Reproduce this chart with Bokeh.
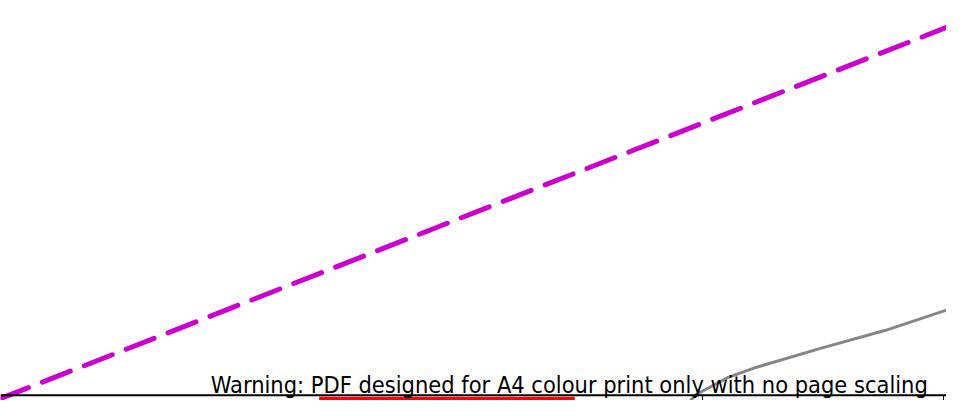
from bokeh.plotting import figure
from bokeh.models import Range1d
from bokeh.core.properties import value
from bokeh.embed import file_html
from bokeh.resources import INLINE

# Page coordinates (x to the right, y upward from bottom edge)
trend_x = [0, 962]
trend_y = [2, 388]

profile_x = [700, 707, 740, 767, 833, 900, 962]
profile_y = [-2, 6, 24, 34, 54, 73, 94]

rule_x = [0, 962]
rule_y = [5.5, 5.5]

band_left = [324]
band_right = [584]
band_bottom = [-2]
band_top = [4]

tick_positions = [714, 959]
tick_bottom = -2
tick_top = 5

warning_text = ["Warning: PDF designed for A4 colour print only with no page scaling"]
warning_x = [943]
warning_y = [16.5]

p = figure(width=946, height=400, output_backend="svg", toolbar_location=None,
           x_range=Range1d(0, 962), y_range=Range1d(0, 416),
           min_border=0, min_border_left=0, min_border_right=0,
           min_border_top=0, min_border_bottom=0)
p.axis.visible = False
p.grid.visible = False
p.outline_line_color = None
p.background_fill_color = "white"
p.border_fill_color = "white"

p.line(trend_x, trend_y, line_color="#cc00cc", line_width=5,
       line_dash="30 15", line_cap="round")

p.line(profile_x, profile_y, line_color="#707070", line_width=3, line_alpha=0.85)

p.quad(left=band_left, right=band_right, bottom=band_bottom, top=band_top,
       fill_color="#ff0000", line_color=None)

p.line(rule_x, rule_y, line_color="black", line_width=2)
p.segment(x0=tick_positions, x1=tick_positions,
          y0=[tick_bottom] * len(tick_positions), y1=[tick_top] * len(tick_positions),
          line_color="black", line_width=1)

p.text(x=warning_x, y=warning_y, text=warning_text,
       text_font=value("DejaVu Sans Condensed"), text_font_size="23.4px",
       text_align="right", text_baseline="alphabetic", text_color="black")

open("out.html", "w").write(file_html(p, INLINE))
